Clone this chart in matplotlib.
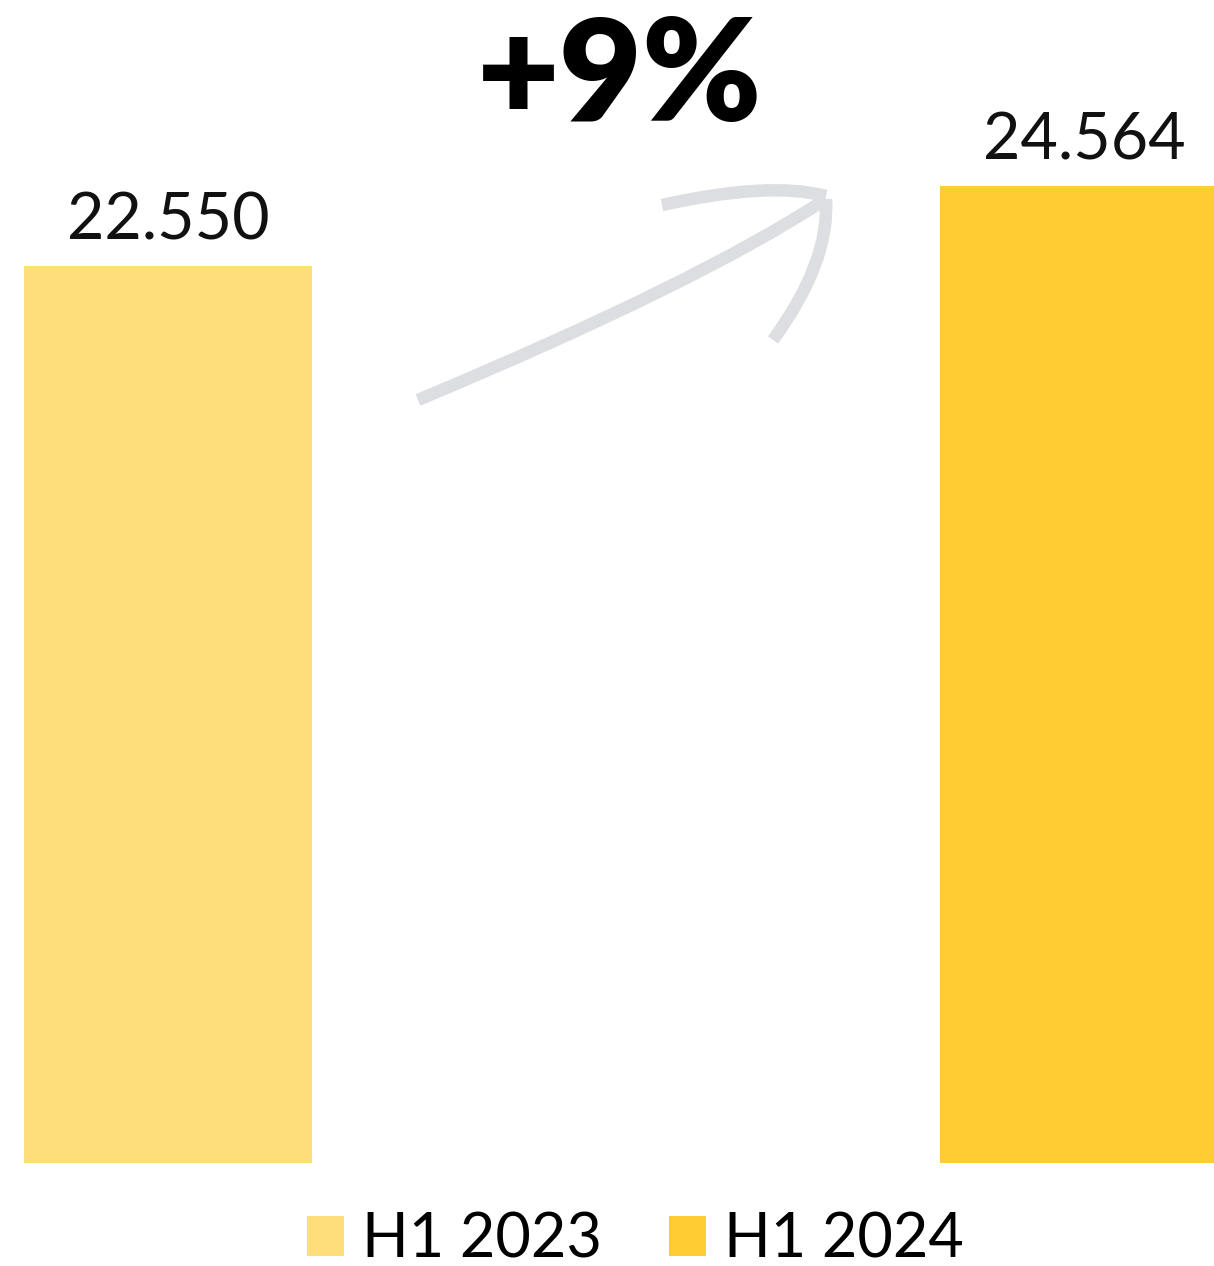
import matplotlib
matplotlib.use("Agg")
import matplotlib.pyplot as plt
from matplotlib.path import Path
from matplotlib.patches import PathPatch

# ---- data ----
categories = ["H1 2023", "H1 2024"]
values = [22550, 24564]
value_labels = ["22.550", "24.564"]
colors = ["#FDDE7B", "#FFCD32"]
change_label = "+9%"

W, H = 1214, 1266
fig = plt.figure(figsize=(W / 100, H / 100), dpi=100)
fig.patch.set_facecolor("white")

ax = fig.add_axes([0, (H - 1163) / H, 1, 1163 / H])
xs = [0, 1]
bar_w = 0.3144
bars = ax.bar(xs, values, width=bar_w, color=colors, label=categories)
ax.set_xlim(-0.1834, -0.1834 + W / 916)
ax.set_ylim(0, 1163 / (897 / 22550))
ax.axis("off")

for x, v, lab in zip(xs, values, value_labels):
    ax.annotate(lab, (x, v), xytext=(0, 26 * 0.72), textcoords="offset points",
                ha="center", va="baseline", fontsize=46.5, family="Lato",
                color="#111111")

# headline change
fig.text(620 / W, 1 - 121 / H, change_label, ha="center", va="baseline",
         fontsize=103, family="Lato", fontweight="heavy", color="black")

# hand-drawn arrow (decoration) in pixel space
ov = fig.add_axes([0, 0, 1, 1], zorder=-1)
ov.set_xlim(0, W)
ov.set_ylim(H, 0)
ov.axis("off")
ov.patch.set_alpha(0)
arrow_col = "#DDDEE2"
strokes = [
    [(418, 400), (700, 282), (826, 199)],
    [(662, 205), (770, 181), (826, 196)],
    [(826, 199), (830, 262), (773, 340)],
]
for pts in strokes:
    p = Path(pts, [Path.MOVETO, Path.CURVE3, Path.CURVE3])
    ov.add_patch(PathPatch(p, fill=False, lw=9, edgecolor=arrow_col,
                           capstyle="butt", joinstyle="round"))

leg = fig.legend(handles=bars.patches, labels=categories, loc="center",
                 bbox_to_anchor=(0.5235, 1 - 1240 / H), ncol=2, frameon=False,
                 prop={"family": "Lato", "size": 44},
                 handlelength=0.6, handleheight=0.63, handletextpad=0.3,
                 columnspacing=1.1, borderaxespad=0, borderpad=0)

fig.savefig("out.png", dpi=100, facecolor="white")
